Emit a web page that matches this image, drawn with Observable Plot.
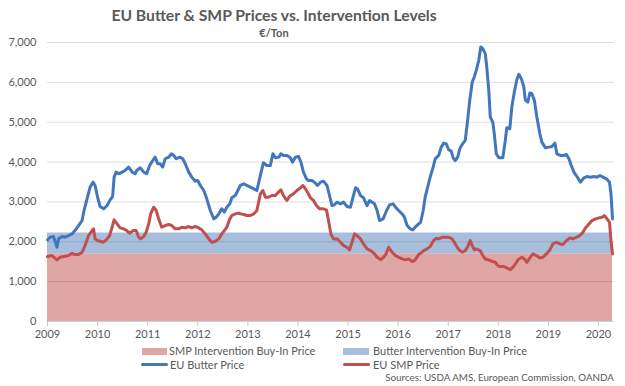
<!DOCTYPE html>
<html><head><meta charset="utf-8">
<script src="https://cdn.jsdelivr.net/npm/d3@7"></script>
<script src="https://cdn.jsdelivr.net/npm/@observablehq/plot@0.6"></script>
<style>
body{margin:0;background:#fff;}
#wrap{position:relative;width:625px;height:386px;font-family:Lato,sans-serif;color:#595959;overflow:hidden;}
#wrap svg{position:absolute;left:0;top:0;}
.t{position:absolute;white-space:nowrap;line-height:14px;}
.sw{position:absolute;}
</style></head><body><div id="wrap"></div>
<script>
// EU Butter price (€/ton), decimal years
const butterYear = [
2009.00,2009.05,2009.12,2009.19,2009.22,2009.29,2009.35,2009.42,2009.49,2009.55,
2009.62,2009.69,2009.73,2009.79,2009.85,2009.91,2009.95,2010.00,2010.05,2010.12,
2010.19,2010.25,2010.30,2010.33,2010.37,2010.42,2010.49,2010.55,2010.62,2010.69,
2010.75,2010.78,2010.85,2010.92,2010.98,2011.04,2011.08,2011.15,2011.20,2011.25,
2011.30,2011.35,2011.42,2011.47,2011.52,2011.57,2011.64,2011.70,2011.75,2011.82,
2011.88,2011.95,2012.00,2012.05,2012.12,2012.18,2012.25,2012.32,2012.37,2012.42,
2012.48,2012.53,2012.58,2012.64,2012.68,2012.75,2012.80,2012.85,
2012.92,2012.98,2013.05,2013.12,2013.18,2013.25,2013.31,2013.38,2013.45,2013.50,
2013.55,2013.62,2013.66,2013.71,2013.78,2013.85,2013.89,2013.95,2014.01,2014.06,
2014.11,2014.17,2014.21,2014.28,2014.35,2014.39,2014.45,2014.51,2014.58,2014.63,
2014.68,2014.73,2014.78,2014.85,2014.91,2014.98,2015.05,2015.10,2015.15,2015.19,
2015.25,2015.31,2015.38,2015.43,2015.48,2015.53,2015.58,2015.63,2015.70,2015.77,
2015.83,2015.90,2015.95,2016.01,2016.08,2016.12,2016.18,2016.24,2016.29,2016.34,
2016.41,
2016.45,2016.50,2016.54,2016.59,2016.64,2016.70,2016.74,2016.81,2016.86,2016.91,
2016.96,2017.01,2017.06,2017.10,2017.14,2017.19,2017.23,2017.28,2017.34,2017.38,
2017.43,2017.48,2017.52,2017.56,2017.61,2017.65,2017.69,2017.74,2017.77,2017.81,
2017.84,2017.89,2017.92,2017.96,2018.01,2018.05,2018.09,2018.14,2018.17,2018.23,
2018.27,2018.32,2018.37,2018.41,2018.46,2018.51,2018.54,2018.59,2018.63,2018.67,
2018.72,2018.77,2018.83,2018.87,2018.94,2019.01,2019.07,2019.13,2019.17,2019.24,
2019.31,2019.36,2019.41,2019.45,2019.51,2019.57,2019.64,2019.71,2019.77,2019.84,
2019.91,2019.97,2020.03,2020.09,2020.16,2020.22,2020.25,2020.28];
const butterPrice = [
2047,2115,2131,1863,2073,2131,2115,2156,2198,2282,
2408,2533,2785,3078,3371,3496,3413,3120,2885,2826,
2910,3052,3136,3622,3748,3706,3748,3790,3873,3748,
3706,3790,3857,3748,3706,3915,3999,4124,3957,3957,
3873,4083,4124,4208,4166,4083,4124,4083,3957,3748,
3622,3521,3538,3413,3287,3078,2785,2575,2617,2701,
2826,2743,2868,2952,3103,3161,3287,3413,
3455,3413,3371,3329,3287,3664,3982,3915,3915,4208,
4108,4124,4208,4166,4166,4108,3999,4124,4141,3999,
3748,3580,3538,3538,3471,3413,3496,3521,3413,3161,
2910,2927,2994,2952,2994,2885,2868,3120,3354,3329,
3161,3103,2910,3036,2994,2952,2785,2533,2575,2785,
2927,2952,2868,2785,2701,2634,2408,2324,2299,2366,
2450,
2491,2784,3119,3370,3621,3872,4082,4166,4375,4475,
4459,4308,4275,4107,4040,4124,4333,4442,4543,4961,
5548,6008,6134,6301,6553,6888,6846,6720,6385,5799,
5129,5003,4710,4208,4107,4107,4107,4543,4861,4836,
5380,5757,6067,6201,6092,5882,5548,5506,5732,5715,
5548,5129,4710,4501,4358,4375,4392,4475,4208,4166,
4166,4191,4082,3940,3747,3638,3496,3605,3638,3621,
3638,3621,3663,3621,3579,3496,3202,2574];

// EU SMP price (€/ton), decimal years
const smpYear = [
2009.00,2009.09,2009.19,2009.25,2009.35,2009.42,2009.49,2009.55,2009.62,2009.69,
2009.75,2009.82,2009.89,2009.92,2009.95,2010.00,2010.05,2010.12,2010.19,2010.24,
2010.29,2010.33,2010.39,2010.45,2010.52,2010.58,2010.64,2010.71,2010.77,2010.82,
2010.86,2010.92,2010.97,2011.02,2011.06,2011.12,2011.17,2011.22,2011.28,2011.35,
2011.42,2011.48,2011.55,2011.62,2011.68,2011.75,2011.82,2011.88,2011.95,2012.02,
2012.08,2012.15,2012.22,2012.28,2012.35,2012.42,2012.48,2012.53,2012.58,2012.64,
2012.68,2012.75,2012.82,2012.85,
2012.92,2012.98,2013.05,2013.12,2013.18,2013.25,2013.30,2013.35,2013.41,2013.48,
2013.55,2013.61,2013.66,2013.71,2013.78,2013.83,2013.91,2013.98,2014.05,2014.10,
2014.15,2014.19,2014.25,2014.31,2014.37,2014.43,2014.50,2014.57,2014.61,2014.66,
2014.71,2014.78,2014.85,2014.91,2014.98,2015.03,2015.08,2015.13,2015.18,2015.25,
2015.31,2015.38,2015.45,2015.53,2015.58,2015.65,2015.71,2015.76,2015.81,2015.88,
2015.95,2016.01,2016.08,2016.15,2016.21,2016.28,2016.34,2016.41,
2016.45,2016.51,2016.58,2016.64,2016.71,2016.76,2016.81,2016.88,2016.94,2017.01,
2017.08,2017.12,2017.18,2017.23,2017.28,2017.34,2017.39,2017.44,2017.48,2017.52,
2017.56,2017.64,2017.69,2017.74,2017.81,2017.87,2017.94,2017.99,2018.04,2018.11,
2018.17,2018.24,2018.29,2018.34,2018.41,2018.47,2018.52,2018.57,2018.63,2018.69,
2018.76,2018.83,2018.89,2018.96,2019.03,2019.09,2019.16,2019.23,2019.29,2019.36,
2019.43,2019.49,2019.56,2019.63,2019.69,2019.74,2019.81,2019.87,2019.94,2020.01,
2020.07,2020.12,2020.17,2020.22,2020.25,2020.28];
const smpPrice = [
1629,1654,1545,1612,1637,1654,1712,1679,1679,1738,
1905,2156,2282,2324,2073,2031,2014,1989,2073,2156,
2366,2550,2450,2349,2324,2282,2215,2282,2282,2115,
2073,2131,2240,2450,2701,2868,2785,2575,2366,2408,
2433,2408,2324,2324,2366,2349,2383,2349,2383,2349,
2299,2198,2073,1989,2014,2073,2198,2282,2366,2575,
2659,2701,2720,2700,
2684,2659,2659,2701,2785,3203,3287,3120,3120,3161,
3161,3245,3304,3161,3036,3136,3203,3287,3354,3413,
3329,3245,3103,3036,2910,2826,2826,2801,2533,2182,
2073,2073,1989,1905,1863,1796,1989,2198,2156,2073,
1947,1821,1780,1696,1612,1553,1612,1696,1863,1738,
1654,1612,1570,1545,1570,1503,1545,1679,
1712,1779,1821,1879,2030,2089,2072,2114,2114,2114,
2072,1988,1862,1779,1737,1779,1879,2030,1904,1796,
1821,1779,1653,1569,1544,1511,1486,1402,1377,1377,
1343,1301,1360,1444,1569,1611,1569,1486,1595,1695,
1653,1595,1611,1695,1796,1946,1988,1946,1929,2030,
2097,2072,2114,2156,2239,2348,2449,2533,2574,2600,
2616,2658,2574,2491,2030,1695];

// Intervention buy-in prices (€/ton)
const interventionYear = [2009.00, 2020.28];
const smpIntervention = [1698, 1698];
const butterIntervention = [2217.51, 2217.51];

const yearTicks = [2009,2010,2011,2012,2013,2014,2015,2016,2017,2018,2019,2020];
const priceTicks = [0,1000,2000,3000,4000,5000,6000,7000];

const title = "EU Butter & SMP Prices vs. Intervention Levels";
const subtitle = "€/Ton";
const legendLabels = ["SMP Intervention Buy-In Price","Butter Intervention Buy-In Price","EU Butter Price","EU SMP Price"];
const source = "Sources: USDA AMS, European Commission, OANDA";

const colors = {butter:"#4276BD", smp:"#C0504D", butterBand:"#A7BFDD", smpBand:"#DFA6A5"};

const butter = butterYear.map((t,i)=>({t, v:butterPrice[i]}));
const smp = smpYear.map((t,i)=>({t, v:smpPrice[i]}));
const band = interventionYear.map((t,i)=>({t, s:smpIntervention[i], b:butterIntervention[i]}));

const fmtComma = d3.format(",");
const fmtYear = d3.format("d");

const chart = Plot.plot({
  width:625, height:386,
  marginTop:42, marginBottom:65, marginLeft:47, marginRight:11,
  style:{fontFamily:"Lato, sans-serif", fontSize:"11px", color:"#595959", background:"transparent"},
  x:{domain:[2009, 2020.32], label:null},
  y:{domain:[0,7000], label:null},
  marks:[
    Plot.areaY(band,{x:"t", y1:0, y2:"s", fill:colors.smpBand}),
    Plot.areaY(band,{x:"t", y1:"s", y2:"b", fill:colors.butterBand}),
    Plot.gridY(priceTicks,{stroke:"#000", strokeOpacity:0.13}),
    Plot.axisY(priceTicks,{tickSize:0, tickPadding:11, tickFormat:fmtComma, fill:"#595959", fontSize:11, label:null}),
    Plot.ruleY([0],{stroke:"#D0D0D0"}),
    Plot.axisX(yearTicks,{tickSize:5, tickPadding:4, tickFormat:fmtYear, stroke:"#C8C8C8", fill:"#595959", fontSize:11, label:null}),
    Plot.lineY(butter,{x:"t", y:"v", stroke:colors.butter, strokeWidth:3, strokeLinejoin:"round"}),
    Plot.lineY(smp,{x:"t", y:"v", stroke:colors.smp, strokeWidth:3, strokeLinejoin:"round"})
  ]
});

const wrap = document.getElementById("wrap");
wrap.appendChild(chart);

function addText(txt, style){
  const d=document.createElement("div"); d.className="t"; d.textContent=txt;
  Object.assign(d.style, style); wrap.appendChild(d); return d;
}
function addSw(style){
  const d=document.createElement("div"); d.className="sw"; Object.assign(d.style, style); wrap.appendChild(d);
}
addText(title,{left:"0px", width:"548px", textAlign:"center", top:"6px", fontWeight:"bold", fontSize:"15.7px", lineHeight:"18px"});
addText(subtitle,{left:"0px", width:"548px", textAlign:"center", top:"26px", fontWeight:"bold", fontSize:"11px"});

// legend
addSw({left:"142px", top:"348px", width:"25px", height:"7px", background:colors.smpBand});
addText(legendLabels[0],{left:"169px", top:"344px", fontSize:"11px"});
addSw({left:"343px", top:"348px", width:"26px", height:"7px", background:colors.butterBand});
addText(legendLabels[1],{left:"373px", top:"344px", fontSize:"11px"});
addSw({left:"141px", top:"363px", width:"27px", height:"3px", background:colors.butter, borderRadius:"1.5px"});
addText(legendLabels[2],{left:"170px", top:"358px", fontSize:"11px"});
addSw({left:"343px", top:"363px", width:"27px", height:"3px", background:colors.smp, borderRadius:"1.5px"});
addText(legendLabels[3],{left:"373px", top:"358px", fontSize:"11px"});
addText(source,{right:"11px", top:"370px", fontSize:"9.8px"});
</script></body></html>
